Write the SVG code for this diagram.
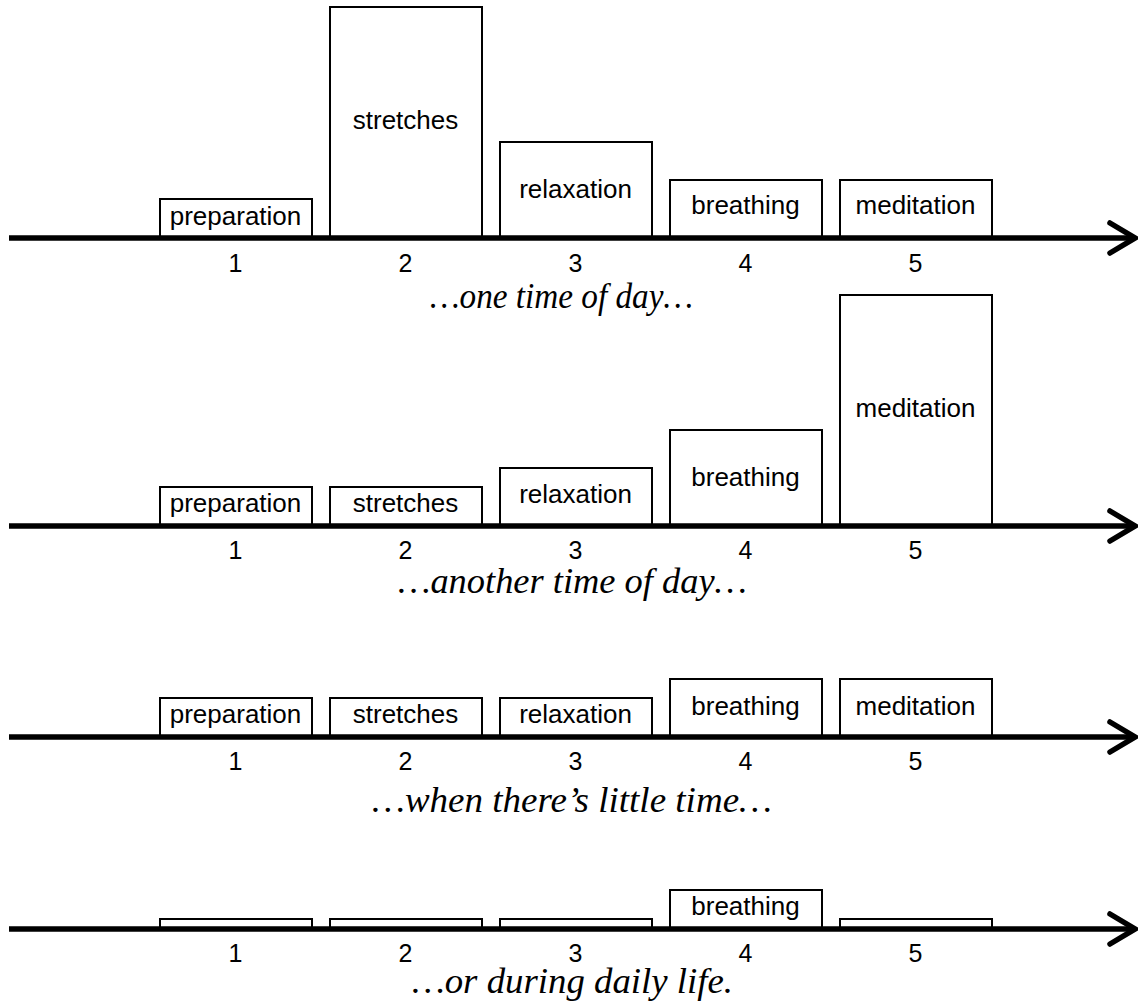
<svg xmlns="http://www.w3.org/2000/svg" width="1138" height="1007" viewBox="0 0 1138 1007">
<style>
.box{fill:#fff;stroke:#000;stroke-width:2}
.lbl{font-family:"Liberation Sans",Arial,sans-serif;font-size:26px;text-anchor:middle;fill:#000}
.num{font-family:"Liberation Sans",Arial,sans-serif;font-size:25px;text-anchor:middle;fill:#000}
.cap{font-family:"Liberation Serif","Times New Roman",serif;font-style:italic;font-size:35px;fill:#000}
.axis{stroke:#000;stroke-width:5.5;fill:none;marker-end:url(#chev)}
</style>
<defs>
<marker id="chev" markerUnits="userSpaceOnUse" viewBox="-32 -20 40 40" refX="0" refY="0" markerWidth="40" markerHeight="40" orient="auto" overflow="visible">
<path d="M-25,-15 L0,0 L-25,15" fill="none" stroke="#000" stroke-width="5.5" stroke-linecap="round" stroke-linejoin="miter"/>
</marker>
</defs>

<!-- Row 1 -->
<g id="r1-preparation"><rect class="box" x="160" y="199" width="152" height="39"/><text class="lbl" x="235.5" y="225">preparation</text></g>
<g id="r1-stretches"><rect class="box" x="330" y="7" width="152" height="231"/><text class="lbl" x="405.5" y="129">stretches</text></g>
<g id="r1-relaxation"><rect class="box" x="500" y="142" width="152" height="96"/><text class="lbl" x="575.5" y="198">relaxation</text></g>
<g id="r1-breathing"><rect class="box" x="670" y="180" width="152" height="58"/><text class="lbl" x="745.5" y="214">breathing</text></g>
<g id="r1-meditation"><rect class="box" x="840" y="180" width="152" height="58"/><text class="lbl" x="915.5" y="214">meditation</text></g>
<g id="r1-numbers"><text class="num" x="235.5" y="272">1</text><text class="num" x="405.5" y="272">2</text><text class="num" x="575.5" y="272">3</text><text class="num" x="745.5" y="272">4</text><text class="num" x="915.5" y="272">5</text></g>
<text class="cap" x="430" y="308" textLength="263" lengthAdjust="spacingAndGlyphs">…one time of day…</text>

<!-- Row 2 -->
<g id="r2-preparation"><rect class="box" x="160" y="487" width="152" height="39"/><text class="lbl" x="235.5" y="512">preparation</text></g>
<g id="r2-stretches"><rect class="box" x="330" y="487" width="152" height="39"/><text class="lbl" x="405.5" y="512">stretches</text></g>
<g id="r2-relaxation"><rect class="box" x="500" y="468" width="152" height="58"/><text class="lbl" x="575.5" y="503">relaxation</text></g>
<g id="r2-breathing"><rect class="box" x="670" y="430" width="152" height="96"/><text class="lbl" x="745.5" y="486">breathing</text></g>
<g id="r2-meditation"><rect class="box" x="840" y="295" width="152" height="231"/><text class="lbl" x="915.5" y="417">meditation</text></g>
<g id="r2-numbers"><text class="num" x="235.5" y="559">1</text><text class="num" x="405.5" y="559">2</text><text class="num" x="575.5" y="559">3</text><text class="num" x="745.5" y="559">4</text><text class="num" x="915.5" y="559">5</text></g>
<text class="cap" x="398" y="593" textLength="349" lengthAdjust="spacingAndGlyphs">…another time of day…</text>

<!-- Row 3 -->
<g id="r3-preparation"><rect class="box" x="160" y="698" width="152" height="39"/><text class="lbl" x="235.5" y="723">preparation</text></g>
<g id="r3-stretches"><rect class="box" x="330" y="698" width="152" height="39"/><text class="lbl" x="405.5" y="723">stretches</text></g>
<g id="r3-relaxation"><rect class="box" x="500" y="698" width="152" height="39"/><text class="lbl" x="575.5" y="723">relaxation</text></g>
<g id="r3-breathing"><rect class="box" x="670" y="679" width="152" height="58"/><text class="lbl" x="745.5" y="715">breathing</text></g>
<g id="r3-meditation"><rect class="box" x="840" y="679" width="152" height="58"/><text class="lbl" x="915.5" y="715">meditation</text></g>
<g id="r3-numbers"><text class="num" x="235.5" y="770">1</text><text class="num" x="405.5" y="770">2</text><text class="num" x="575.5" y="770">3</text><text class="num" x="745.5" y="770">4</text><text class="num" x="915.5" y="770">5</text></g>
<text class="cap" x="372" y="812" textLength="400" lengthAdjust="spacingAndGlyphs">…when there’s little time…</text>

<!-- Row 4 -->
<g id="r4-box1"><rect class="box" x="160" y="919" width="152" height="10"/></g>
<g id="r4-box2"><rect class="box" x="330" y="919" width="152" height="10"/></g>
<g id="r4-box3"><rect class="box" x="500" y="919" width="152" height="10"/></g>
<g id="r4-breathing"><rect class="box" x="670" y="890" width="152" height="39"/><text class="lbl" x="745.5" y="915">breathing</text></g>
<g id="r4-box5"><rect class="box" x="840" y="919" width="152" height="10"/></g>
<g id="r4-numbers"><text class="num" x="235.5" y="962">1</text><text class="num" x="405.5" y="962">2</text><text class="num" x="575.5" y="962">3</text><text class="num" x="745.5" y="962">4</text><text class="num" x="915.5" y="962">5</text></g>
<text class="cap" x="412" y="993" textLength="321" lengthAdjust="spacingAndGlyphs">…or during daily life.</text>

<!-- Axes -->
<g id="axes">
<line class="axis" x1="9" y1="238" x2="1135" y2="238"/>
<line class="axis" x1="9" y1="526" x2="1135" y2="526"/>
<line class="axis" x1="9" y1="737" x2="1135" y2="737"/>
<line class="axis" x1="9" y1="929" x2="1135" y2="929"/>
</g>
</svg>
